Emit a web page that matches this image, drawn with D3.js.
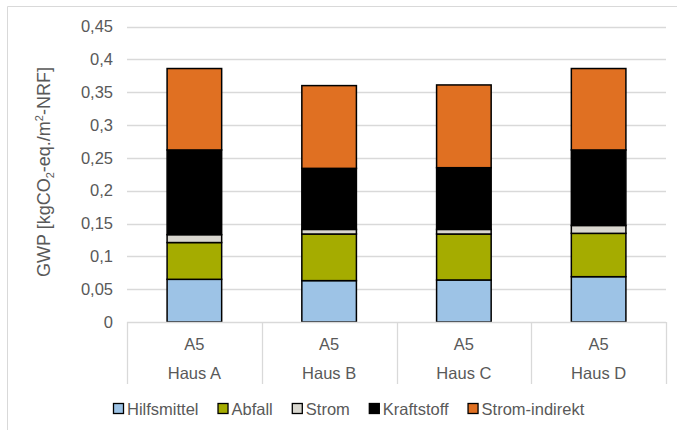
<!DOCTYPE html>
<html>
<head>
<meta charset="utf-8">
<script src="https://cdn.jsdelivr.net/npm/d3@7"></script>
<style>
  html, body { margin: 0; padding: 0; background: #fff; }
  svg { display: block; font-family: "Liberation Sans", Arial, sans-serif; }
</style>
</head>
<body>
<svg id="chart" width="677" height="430"></svg>
<script>
// Houses and the life-cycle stage shown for each
const houses = ["Haus A", "Haus B", "Haus C", "Haus D"];
const stage = "A5";

// Stacked components (kgCO2-eq./m²-NRF)
const seriesNames = ["Hilfsmittel", "Abfall", "Strom", "Kraftstoff", "Strom-indirekt"];
const hilfsmittel   = [0.065, 0.063, 0.064, 0.069];
const abfall        = [0.056, 0.071, 0.070, 0.066];
const strom         = [0.012, 0.007, 0.007, 0.012];
const kraftstoff    = [0.129, 0.093, 0.094, 0.115];
const stromIndirekt = [0.124, 0.126, 0.126, 0.124];

const yTicks = [0, 0.05, 0.1, 0.15, 0.2, 0.25, 0.3, 0.35, 0.4, 0.45];
const colors = ["#9DC3E6", "#A5AC00", "#D9D7CF", "#000000", "#E07022"];

const rows = houses.map((h, i) => ({
  house: h,
  "Hilfsmittel": hilfsmittel[i],
  "Abfall": abfall[i],
  "Strom": strom[i],
  "Kraftstoff": kraftstoff[i],
  "Strom-indirekt": stromIndirekt[i]
}));

const svg = d3.select("#chart");
const plotL = 127, plotR = 666, plotT = 26.5, plotB = 322;
const textColor = "#595959";
const gridColor = "#D9D9D9";
const fontSize = "16px";

// Outer frame (left and top edges visible)
svg.append("path")
  .attr("d", "M7.5,430 L7.5,6.5 L677,6.5")
  .attr("fill", "none").attr("stroke", gridColor).attr("stroke-width", 1);

const x = d3.scaleBand().domain(houses).range([plotL, plotR]).paddingInner(0).paddingOuter(0);
const y = d3.scaleLinear().domain([0, 0.45]).range([plotB, plotT]);

// Horizontal gridlines
svg.append("g").selectAll("line").data(yTicks.filter(t => t > 0)).join("line")
  .attr("x1", plotL).attr("x2", plotR)
  .attr("y1", d => Math.round(y(d)) + 0.5).attr("y2", d => Math.round(y(d)) + 0.5)
  .attr("stroke", gridColor).attr("stroke-width", 1.3);

// Y axis tick labels
const fmt = d => String(+d.toFixed(2)).replace(".", ",");
const yAxis = d3.axisLeft(y).tickValues(yTicks).tickSize(0).tickPadding(14).tickFormat(fmt);
const yg = svg.append("g").attr("transform", `translate(${plotL},0)`).call(yAxis);
yg.select(".domain").remove();
yg.selectAll("text").attr("fill", textColor).style("font-size", "16.5px")
  .attr("font-family", "Liberation Sans, Arial, sans-serif");

// Y axis title with sub/superscript
const yt = svg.append("text")
  .attr("transform", "translate(50,172) rotate(-90)")
  .attr("text-anchor", "middle")
  .attr("fill", textColor)
  .style("font-size", "18px");
yt.append("tspan").text("GWP [kgCO");
yt.append("tspan").text("2").style("font-size", "11px").attr("dy", 4);
yt.append("tspan").text("-eq./m").attr("dy", -4);
yt.append("tspan").text("2").style("font-size", "11px").attr("dy", -7);
yt.append("tspan").text("-NRF]").attr("dy", 7);

// Stacked bars
const stack = d3.stack().keys(seriesNames);
const stacked = stack(rows);
const barW = x.bandwidth() * 0.405;
svg.append("g").selectAll("g").data(stacked).join("g")
  .attr("fill", (d, i) => colors[i])
  .selectAll("rect").data(d => d).join("rect")
  .attr("x", d => x(d.data.house) + (x.bandwidth() - barW) / 2)
  .attr("width", barW)
  .attr("y", d => y(d[1]))
  .attr("height", d => y(d[0]) - y(d[1]))
  .attr("stroke", "#000").attr("stroke-width", 1.5);

// Category axis box
const cat = svg.append("g");
cat.append("line").attr("x1", plotL).attr("x2", plotR)
  .attr("y1", plotB + 0.5).attr("y2", plotB + 0.5)
  .attr("stroke", gridColor).attr("stroke-width", 1.3);
const seps = houses.map(h => x(h)).concat([plotR]);
cat.selectAll("line.sep").data(seps).join("line").attr("class", "sep")
  .attr("x1", d => Math.round(d) + 0.5).attr("x2", d => Math.round(d) + 0.5)
  .attr("y1", plotB).attr("y2", 384)
  .attr("stroke", gridColor).attr("stroke-width", 1.3);
cat.selectAll("text.stage").data(houses).join("text").attr("class", "stage")
  .attr("x", d => x(d) + x.bandwidth() / 2).attr("y", 350)
  .attr("text-anchor", "middle").attr("fill", textColor).style("font-size", "16.5px")
  .text(stage);
cat.selectAll("text.house").data(houses).join("text").attr("class", "house")
  .attr("x", d => x(d) + x.bandwidth() / 2).attr("y", 379)
  .attr("text-anchor", "middle").attr("fill", textColor).style("font-size", "16.5px")
  .text(d => d);

// Legend
const legend = svg.append("g");
let lx = 113;
seriesNames.forEach((name, i) => {
  const item = legend.append("g");
  item.append("rect").attr("x", lx + 0.5).attr("y", 403.5).attr("width", 10).attr("height", 10)
    .attr("fill", colors[i]).attr("stroke", "#000").attr("stroke-width", 1.3);
  const t = item.append("text").attr("x", lx + 14).attr("y", 415)
    .attr("fill", textColor).style("font-size", "16.5px").text(name);
  lx += 14 + t.node().getComputedTextLength() + 19;
});
</script>
</body>
</html>
